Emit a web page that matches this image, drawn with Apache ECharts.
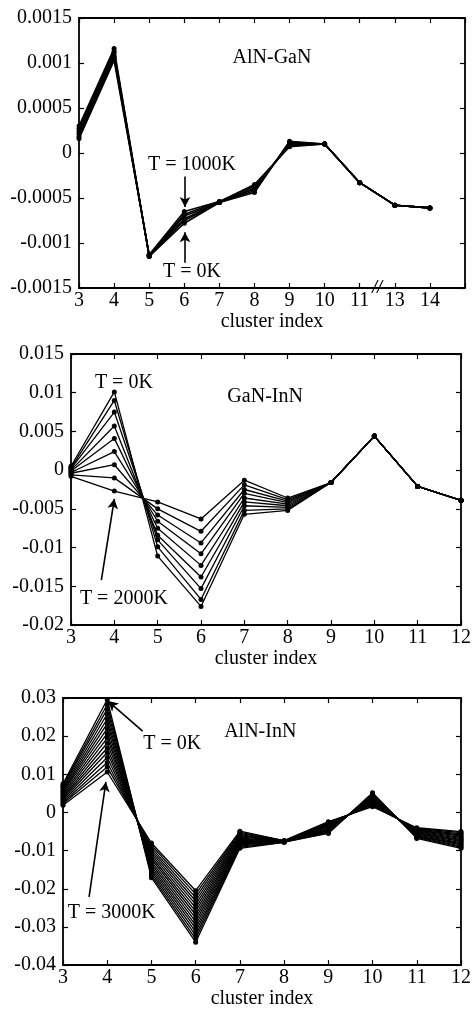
<!DOCTYPE html>
<html>
<head>
<meta charset="utf-8">
<script src="https://cdn.jsdelivr.net/npm/echarts@6/dist/echarts.min.js"></script>
<style>
  html, body { margin: 0; padding: 0; background: #fff; }
  #chart { width: 474px; height: 1010px; }
</style>
</head>
<body>
<div id="chart"></div>
<script>
// cluster labels (panel 1 has a break 11 -> 13)
const clusters1 = [3, 4, 5, 6, 7, 8, 9, 10, 11, 13, 14];
const clusters2 = [3, 4, 5, 6, 7, 8, 9, 10, 11, 12];
const clusters3 = [3, 4, 5, 6, 7, 8, 9, 10, 11, 12];

// AlN-GaN, T = 0K ... 1000K
const temps1 = [0, 200, 400, 600, 800, 1000];
const alnGan = [
  [0.00030, 0.00116, -0.00115, -0.00078, -0.00055, -0.00044, 0.00013, 0.00010, -0.00033, -0.00058, -0.00061],
  [0.00027, 0.00113, -0.00115, -0.00075, -0.00055, -0.00042, 0.00012, 0.00010, -0.00033, -0.00058, -0.00061],
  [0.00024, 0.00111, -0.00114, -0.00073, -0.00055, -0.00040, 0.00011, 0.00010, -0.00033, -0.00058, -0.00061],
  [0.00021, 0.00108, -0.00114, -0.00070, -0.00055, -0.00039, 0.00009, 0.00010, -0.00033, -0.00058, -0.00061],
  [0.00018, 0.00106, -0.00113, -0.00068, -0.00054, -0.00037, 0.00008, 0.00010, -0.00033, -0.00058, -0.00061],
  [0.00016, 0.00103, -0.00113, -0.00065, -0.00054, -0.00035, 0.00007, 0.00010, -0.00033, -0.00058, -0.00061]
];

// GaN-InN, T = 0K ... 2000K
const temps2 = [0, 250, 500, 750, 1000, 1250, 1500, 1750, 2000];
const ganInn = [
  [0.0005, 0.0101, -0.0111, -0.0176, -0.0057, -0.0052, -0.0016, 0.0044, -0.0021, -0.0039],
  [0.0003, 0.0090, -0.0099, -0.0167, -0.0052, -0.0050, -0.0016, 0.0044, -0.0021, -0.0039],
  [0.0002, 0.0075, -0.0090, -0.0153, -0.0046, -0.0048, -0.0016, 0.0044, -0.0021, -0.0039],
  [0.0000, 0.0057, -0.0084, -0.0138, -0.0041, -0.0046, -0.0016, 0.0044, -0.0021, -0.0039],
  [-0.0001, 0.0041, -0.0075, -0.0123, -0.0036, -0.0044, -0.0016, 0.0044, -0.0021, -0.0039],
  [-0.0003, 0.0024, -0.0066, -0.0108, -0.0030, -0.0042, -0.0016, 0.0044, -0.0021, -0.0039],
  [-0.0004, 0.0007, -0.0058, -0.0094, -0.0025, -0.0040, -0.0016, 0.0044, -0.0021, -0.0039],
  [-0.0006, -0.0010, -0.0050, -0.0079, -0.0019, -0.0038, -0.0016, 0.0044, -0.0021, -0.0039],
  [-0.0008, -0.0027, -0.0041, -0.0063, -0.0013, -0.0036, -0.0016, 0.0044, -0.0021, -0.0039]
];

// AlN-InN, T = 0K ... 3000K
const temps3 = [0, 200, 400, 600, 800, 1000, 1200, 1400, 1600, 1800, 2000, 2200, 2400, 2600, 2800, 3000];
const alnInn = [
  [0.0075, 0.0296, -0.0171, -0.0340, -0.0094, -0.0078, -0.0055, 0.0052, -0.0068, -0.0094],
  [0.0071, 0.0283, -0.0165, -0.0331, -0.0091, -0.0078, -0.0053, 0.0050, -0.0066, -0.0091],
  [0.0068, 0.0271, -0.0159, -0.0322, -0.0088, -0.0077, -0.0051, 0.0047, -0.0064, -0.0088],
  [0.0064, 0.0258, -0.0153, -0.0313, -0.0085, -0.0077, -0.0049, 0.0045, -0.0062, -0.0085],
  [0.0060, 0.0245, -0.0147, -0.0304, -0.0082, -0.0077, -0.0047, 0.0042, -0.0061, -0.0082],
  [0.0056, 0.0233, -0.0141, -0.0295, -0.0079, -0.0077, -0.0045, 0.0040, -0.0059, -0.0079],
  [0.0053, 0.0220, -0.0135, -0.0286, -0.0076, -0.0076, -0.0043, 0.0037, -0.0057, -0.0076],
  [0.0049, 0.0207, -0.0129, -0.0277, -0.0073, -0.0076, -0.0041, 0.0035, -0.0055, -0.0073],
  [0.0045, 0.0195, -0.0122, -0.0268, -0.0070, -0.0076, -0.0038, 0.0032, -0.0053, -0.0071],
  [0.0041, 0.0182, -0.0116, -0.0259, -0.0067, -0.0076, -0.0036, 0.0030, -0.0051, -0.0068],
  [0.0038, 0.0169, -0.0110, -0.0250, -0.0064, -0.0075, -0.0034, 0.0027, -0.0049, -0.0065],
  [0.0034, 0.0157, -0.0104, -0.0241, -0.0061, -0.0075, -0.0032, 0.0025, -0.0047, -0.0062],
  [0.0030, 0.0144, -0.0098, -0.0232, -0.0058, -0.0075, -0.0030, 0.0022, -0.0046, -0.0059],
  [0.0026, 0.0131, -0.0092, -0.0223, -0.0055, -0.0075, -0.0028, 0.0020, -0.0044, -0.0056],
  [0.0023, 0.0119, -0.0086, -0.0214, -0.0052, -0.0074, -0.0026, 0.0017, -0.0042, -0.0053],
  [0.0019, 0.0106, -0.0080, -0.0205, -0.0049, -0.0074, -0.0024, 0.0015, -0.0040, -0.0050]
];

const FONT = "'Liberation Serif', 'DejaVu Serif', serif";
const INK = "#000";

const panels = [
  {
    grid: { left: 79, top: 18, width: 386, height: 270 },
    clusters: clusters1, temps: temps1, rows: alnGan, lineW: 1.6,
    xMax: 14, yMin: -0.0015, yMax: 0.0015, yInt: 0.0005, nameGap: 24,
    texts: [
      { coord: [8.5, 0.00106], text: "AlN-GaN" },
      { coord: [6.22, -0.00013], text: "T = 1000K" },
      { coord: [6.22, -0.00132], text: "T = 0K" },
      { coord: [11.5, -0.0015], text: "//", size: 18 }
    ],
    arrows: [
      [[6.02, -0.00026], [6.02, -0.00060]],
      [[6.02, -0.00122], [6.02, -0.00088]]
    ]
  },
  {
    grid: { left: 71, top: 354, width: 394, height: 271 },
    clusters: clusters2, temps: temps2, rows: ganInn, lineW: 1.3,
    xMax: 12, yMin: -0.02, yMax: 0.015, yInt: 0.005, nameGap: 14,
    texts: [
      { coord: [7.48, 0.0095], text: "GaN-InN" },
      { coord: [4.22, 0.0113], text: "T = 0K" },
      { coord: [4.22, -0.0166], text: "T = 2000K" }
    ],
    arrows: [
      [[3.70, -0.0142], [4.0, -0.0037]]
    ]
  },
  {
    grid: { left: 63, top: 698, width: 402, height: 270 },
    clusters: clusters3, temps: temps3, rows: alnInn, lineW: 1.3,
    xMax: 12, yMin: -0.04, yMax: 0.03, yInt: 0.01, nameGap: 19,
    texts: [
      { coord: [7.46, 0.0212], text: "AlN-InN" },
      { coord: [5.47, 0.0181], text: "T = 0K" },
      { coord: [4.10, -0.0263], text: "T = 3000K" }
    ],
    arrows: [
      [[4.80, 0.0213], [4.02, 0.0292]],
      [[3.59, -0.0221], [3.97, 0.0080]]
    ]
  }
];

const grids = [], xAxes = [], yAxes = [], series = [];

panels.forEach((p, gi) => {
  grids.push(p.grid);
  const axisLine = { show: true, onZero: false, lineStyle: { color: INK, width: 1.8 } };
  const tick = { show: true, inside: true, length: 5, lineStyle: { color: INK, width: 1.2 } };
  const xBase = { type: "value", gridIndex: gi, min: 3, max: p.xMax, interval: 1, splitLine: { show: false } };
  xAxes.push(Object.assign({}, xBase, {
    position: "bottom",
    axisLine, axisTick: tick,
    axisLabel: {
      color: INK, fontFamily: FONT, fontSize: 20, margin: 3,
      formatter: v => {
        const c = p.clusters[Math.round(v) - 3];
        return c === undefined ? "" : String(c);
      }
    },
    name: "cluster index", nameLocation: "middle", nameGap: p.nameGap,
    nameTextStyle: { color: INK, fontFamily: FONT, fontSize: 20 }
  }));
  xAxes.push(Object.assign({}, xBase, {
    position: "top", axisLine, axisTick: tick, axisLabel: { show: false }
  }));
  const yBase = { type: "value", gridIndex: gi, min: p.yMin, max: p.yMax, interval: p.yInt, splitLine: { show: false } };
  yAxes.push(Object.assign({}, yBase, {
    position: "left", axisLine, axisTick: tick,
    axisLabel: { color: INK, fontFamily: FONT, fontSize: 20, margin: 7 }
  }));
  yAxes.push(Object.assign({}, yBase, {
    position: "right", axisLine, axisTick: tick, axisLabel: { show: false }
  }));

  p.rows.forEach((row, ri) => {
    const s = {
      name: gi + ":" + p.temps[ri] + "K",
      type: "line",
      xAxisIndex: gi * 2,
      yAxisIndex: gi * 2,
      data: row.map((v, i) => [i + 3, v]),
      symbol: "circle",
      symbolSize: 5,
      itemStyle: { color: INK },
      lineStyle: { color: INK, width: p.lineW },
      silent: true,
      z: 2
    };
    if (ri === 0) {
      s.markPoint = {
        symbol: "circle", symbolSize: 1, silent: true,
        itemStyle: { color: "rgba(0,0,0,0)" },
        data: p.texts.map(t => ({
          coord: t.coord,
          label: {
            show: true, position: "inside", formatter: t.text,
            color: INK, fontFamily: FONT, fontSize: t.size || 20,
            fontStyle: t.text === "//" ? "italic" : "normal",
            fontWeight: t.text === "//" ? "bold" : "normal"
          }
        }))
      };
      s.markLine = {
        silent: true, symbol: ["none", "arrow"], symbolSize: [8, 10],
        label: { show: false },
        lineStyle: { color: INK, width: 1.6, type: "solid" },
        data: p.arrows.map(a => [{ coord: a[0] }, { coord: a[1] }])
      };
    }
    series.push(s);
  });
});

const chart = echarts.init(document.getElementById("chart"));
chart.setOption({
  backgroundColor: "#fff",
  animation: false,
  grid: grids,
  xAxis: xAxes,
  yAxis: yAxes,
  series: series
});
</script>
</body>
</html>
